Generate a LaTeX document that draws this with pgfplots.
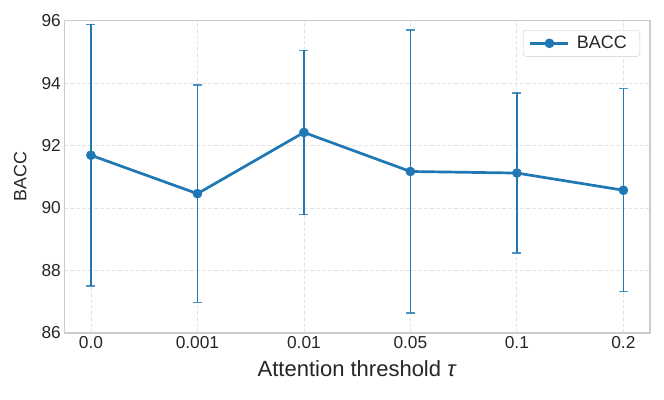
\documentclass[border=0pt]{standalone}
\usepackage{fontspec}
\setmainfont{Liberation Sans}
\usepackage{pgfplots}
\pgfplotsset{compat=1.18}
\usepackage{pgfplotstable}
\definecolor{cBlue}{RGB}{31,119,180}
\definecolor{cGrid}{RGB}{228,228,228}
\definecolor{cFrame}{RGB}{204,204,204}
\definecolor{cText}{RGB}{38,38,38}

% mean BACC and std per threshold
\pgfplotstableread{
x y err
0 91.69 4.19
1 90.46 3.48
2 92.42 2.63
3 91.17 4.53
4 91.12 2.56
5 90.57 3.25
}\bacc

\begin{document}
\begin{tikzpicture}
\begin{axis}[
    scale only axis,
    width=585.7pt, height=312.4pt,
    xmin=-0.25, xmax=5.25,
    ymin=86, ymax=96,
    xtick={0,1,2,3,4,5},
    xticklabels={0.0,0.001,0.01,0.05,0.1,0.2},
    ytick={86,88,90,92,94,96},
    grid=major,
    grid style={cGrid, line width=0.8pt, dash pattern=on 4pt off 2pt},
    axis line style={cFrame, line width=1.2pt},
    major tick length=0pt,
    tick label style={font=\fontsize{17.3}{20}\selectfont, text=cText},
    /pgf/number format/assume math mode=true,
    xlabel={Attention threshold \textit{τ}},
    xlabel style={font=\fontsize{22}{26}\selectfont, text=cText, yshift=-5pt},
    ylabel={BACC},
    ylabel style={font=\fontsize{17.8}{20}\selectfont, text=cText, yshift=8pt},
    legend style={at={(1,1)}, anchor=north east, xshift=-10pt, yshift=-9.5pt,
                  draw=cFrame, rounded corners=3pt, text=cText,
                  font=\fontsize{18}{21}\selectfont,
                  inner xsep=6pt, inner ysep=4pt,
                  nodes={inner xsep=7pt}},
    legend image code/.code={%
        \draw[mark repeat=2, mark phase=2] plot coordinates {(0pt,0pt) (19pt,0pt) (38pt,0pt)};},
]

\addplot[cBlue, line width=2.7pt, mark=*, mark size=4.6pt,
    mark options={solid, fill=cBlue, draw=cBlue, line width=0.4pt},
    error bars/.cd, y dir=both, y explicit, error mark=|,
    error bar style={cBlue, line width=1.5pt, solid},
    error mark options={cBlue, line width=1.3pt, mark size=4.5pt, opacity=0.8}]
    table[x=x, y=y, y error=err] {\bacc};
\addlegendentry{BACC}

\coordinate (sw) at (rel axis cs:0,0);
\coordinate (ne) at (rel axis cs:1,1);
\end{axis}
\pgfresetboundingbox
\path ([shift={(-64.3pt,-66pt)}]sw) rectangle ([shift={(14pt,20.6pt)}]ne);
\end{tikzpicture}
\end{document}
